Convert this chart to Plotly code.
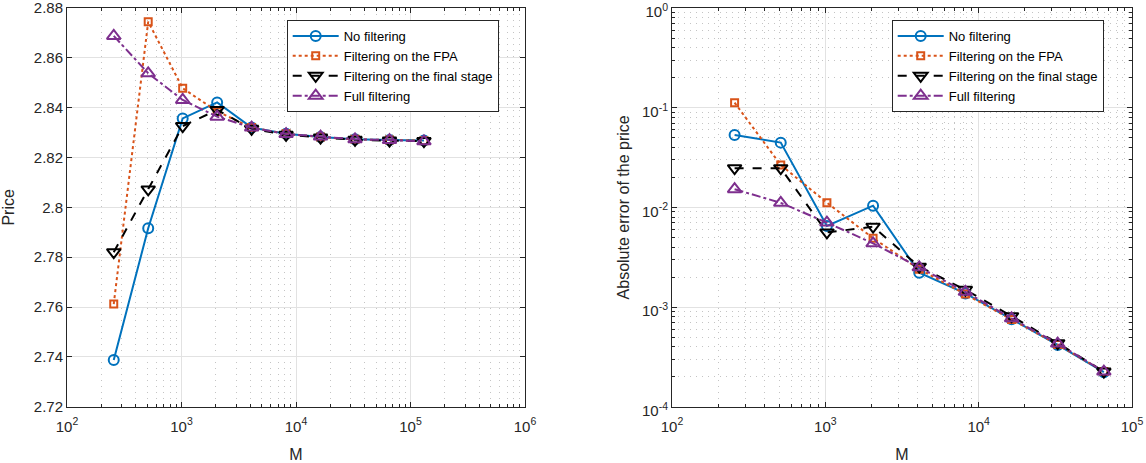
import plotly.graph_objects as go

# Sample sizes
m_price = [256, 512, 1024, 2048, 4096, 8192, 16384, 32768, 65536, 131072]
m_error = [256, 512, 1024, 2048, 4096, 8192, 16384, 32768, 65536]

# Price estimates per method
price_none = [2.7387, 2.7916, 2.8357, 2.8421, 2.8320, 2.8295, 2.8282, 2.8273, 2.8270, 2.8268]
price_fpa = [2.7612, 2.8745, 2.8478, 2.8385, 2.8320, 2.8295, 2.8282, 2.8273, 2.8270, 2.8267]
price_final = [2.7820, 2.8072, 2.8326, 2.8391, 2.8315, 2.8291, 2.8280, 2.8271, 2.8268, 2.8266]
price_full = [2.8688, 2.8538, 2.8431, 2.8364, 2.8320, 2.8294, 2.8284, 2.8273, 2.8270, 2.8265]

# Absolute errors per method
err_none = [0.0532, 0.0446, 0.0065, 0.0104, 0.00221, 0.00137, 0.000754, 0.000417, 0.000222]
err_fpa = [0.1122, 0.0266, 0.01115, 0.0049, 0.0024, 0.00135, 0.00075, 0.00042, 0.000225]
err_final = [0.0247, 0.0247, 0.0056, 0.0064, 0.00254, 0.00149, 0.00081, 0.000434, 0.000225]
err_full = [0.0152, 0.0111, 0.00703, 0.00436, 0.0025, 0.00142, 0.00077, 0.00043, 0.000225]

names = ["No filtering", "Filtering on the FPA", "Filtering on the final stage", "Full filtering"]
colors = ["#0072BD", "#D95319", "#000000", "#7E2F8E"]
dashes = ["solid", "dot", "dash", "dashdot"]
symbols = ["circle-open", "square-open", "triangle-down-open", "triangle-up-open"]
sizes = [10, 7, 12, 12]

font_family = "Liberation Sans, Arial, Helvetica, sans-serif"
tick_color = "#262626"

fig = go.Figure()

price_series = [price_none, price_fpa, price_final, price_full]
error_series = [err_none, err_fpa, err_final, err_full]

for i in range(4):
    fig.add_trace(go.Scatter(
        x=m_price, y=price_series[i], name=names[i], mode="lines+markers",
        line=dict(color=colors[i], width=2, dash=dashes[i]),
        marker=dict(symbol=symbols[i], size=sizes[i], color=colors[i],
                    line=dict(width=2, color=colors[i])),
        xaxis="x", yaxis="y", legend="legend",
    ))
for i in range(4):
    fig.add_trace(go.Scatter(
        x=m_error, y=error_series[i], name=names[i], mode="lines+markers",
        line=dict(color=colors[i], width=2, dash=dashes[i]),
        marker=dict(symbol=symbols[i], size=sizes[i], color=colors[i],
                    line=dict(width=2, color=colors[i])),
        xaxis="x2", yaxis="y2", legend="legend2",
    ))

W, H = 1146, 463
y_dom = [1 - 406.7 / H, 1 - 8 / H]

def sup(e):
    return "10<sup>%d</sup>" % e

common_axis = dict(
    showline=True, linecolor="#262626", linewidth=1, mirror="ticks",
    ticks="inside", ticklen=5, tickcolor="#262626",
    tickfont=dict(size=15, color=tick_color, family=font_family),
    ticklabeloverflow="allow", automargin=False,
    gridcolor="#e2e2e2", gridwidth=1, zeroline=False,
)

minor_log = dict(ticks="inside", ticklen=3, tickcolor="#262626", dtick="D1",
                 showgrid=True, gridcolor="#c4c4c4", griddash="1px,5px", gridwidth=1)

title_font = dict(size=16, color=tick_color, family=font_family)

legend_style = dict(
    y=1 - 20 / H, xanchor="left", yanchor="top",
    bgcolor="white", bordercolor="#262626", borderwidth=1,
    font=dict(size=13, color="#000000", family=font_family),
    tracegroupgap=0, itemwidth=46,
)

fig.update_layout(
    width=W, height=H,
    margin=dict(l=0, r=0, t=0, b=0),
    paper_bgcolor="white", plot_bgcolor="white",
    font=dict(family=font_family, color=tick_color),
    xaxis=dict(
        domain=[67 / W, 525 / W], type="log", range=[2, 6], anchor="y",
        tickvals=[1e2, 1e3, 1e4, 1e5, 1e6], ticktext=[sup(e) for e in range(2, 7)],
        minor=minor_log, ticklabelstandoff=6,
        title=dict(text="M", font=title_font, standoff=16),
        **common_axis,
    ),
    yaxis=dict(
        domain=y_dom, range=[2.72, 2.88], anchor="x",
        tickvals=[2.72, 2.74, 2.76, 2.78, 2.8, 2.82, 2.84, 2.86, 2.88],
        ticktext=["2.72", "2.74", "2.76", "2.78", "2.8", "2.82", "2.84", "2.86", "2.88"],
        title=dict(text="Price", font=title_font, standoff=17),
        **common_axis,
    ),
    xaxis2=dict(
        domain=[672 / W, 1132 / W], type="log", range=[2, 5], anchor="y2",
        tickvals=[1e2, 1e3, 1e4, 1e5], ticktext=[sup(e) for e in range(2, 6)],
        minor=minor_log, ticklabelstandoff=6,
        title=dict(text="M", font=title_font, standoff=16),
        **common_axis,
    ),
    yaxis2=dict(
        domain=y_dom, type="log", range=[-4, 0], anchor="x2",
        tickvals=[1e-4, 1e-3, 1e-2, 1e-1, 1e0], ticktext=[sup(e) for e in range(-4, 1)],
        minor=minor_log, ticklabelshift=4,
        title=dict(text="Absolute error of the price", font=title_font, standoff=8),
        **common_axis,
    ),
    legend=dict(x=286.7 / W, **legend_style),
    legend2=dict(x=891.7 / W, **legend_style),
)

fig.write_html("out.html")
